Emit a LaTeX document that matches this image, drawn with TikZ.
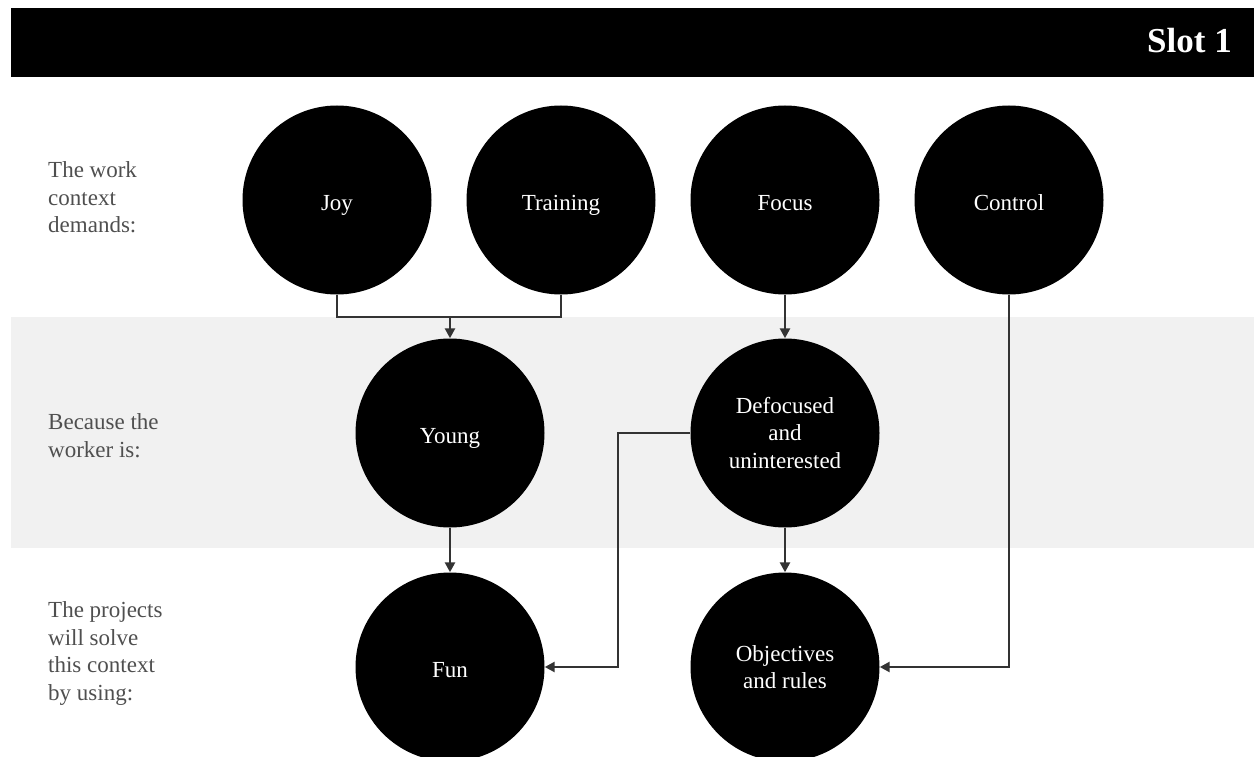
\documentclass[tikz,border=0pt]{standalone}
\usepackage{fontspec}
\setmainfont{Liberation Serif}
\usetikzlibrary{arrows.meta}
\definecolor{band}{HTML}{F1F1F1}
\definecolor{labelgrey}{HTML}{4F4F4F}
\definecolor{linegrey}{HTML}{333333}
\tikzset{
  blob/.style={circle, fill=black, draw=none, minimum size=189pt, inner sep=0pt,
    text=white, align=center, font=\fontsize{23}{27.5}\selectfont},
  oneline/.style={blob, text height=21pt, text depth=0pt},
  rowlabel/.style={anchor=base west, align=left, text=labelgrey, inner sep=0pt,
    font=\fontsize{23}{27.5}\selectfont},
  conn/.style={draw=linegrey, line width=2.6pt},
  arr/.style={conn, -{Triangle[width=10pt,length=10pt]}}
}
\begin{document}
\begin{tikzpicture}[x=1pt,y=-1pt]
\useasboundingbox (0,0) rectangle (1254,757);
% header
\fill[black] (11,8) rectangle (1254,77);
\node[anchor=base east, text=white, inner sep=0pt, font=\fontsize{35}{35}\bfseries\selectfont] (slot) at (1232,53) {Slot 1};
% grey band
\fill[band] (11,317) rectangle (1254,548);
% row labels (anchored at the baseline of their last line)
\node[rowlabel] (l1) at (48,233) {The work\\context\\demands:};
\node[rowlabel] (l2) at (48,457) {Because the\\worker is:};
\node[rowlabel] (l3) at (48,700) {The projects\\will solve\\this context\\by using:};
% circles
\node[oneline] (joy) at (337,200) {Joy};
\node[oneline] (training) at (561,200) {Training};
\node[oneline] (focus) at (785,200) {Focus};
\node[oneline] (control) at (1009,200) {Control};
\node[oneline] (young) at (450,433) {Young};
\node[blob] (defoc) at (785,433) {Defocused\\and\\uninterested};
\node[oneline] (fun) at (450,667) {Fun};
\node[blob] (obj) at (785,667) {Objectives\\and rules};
% connectors
\coordinate (merge) at (450,317);
\draw[conn] (joy.south) |- (merge) -| (training.south);
\draw[arr] (merge) -- (young.north);
\draw[arr] (focus.south) -- (defoc.north);
\draw[arr] (young.south) -- (fun.north);
\draw[arr] (defoc.south) -- (obj.north);
\coordinate (bend) at (618,433);
\draw[arr] (defoc.west) -- (bend) |- (fun.east);
\draw[arr] (control.south) |- (obj.east);
\end{tikzpicture}
\end{document}
